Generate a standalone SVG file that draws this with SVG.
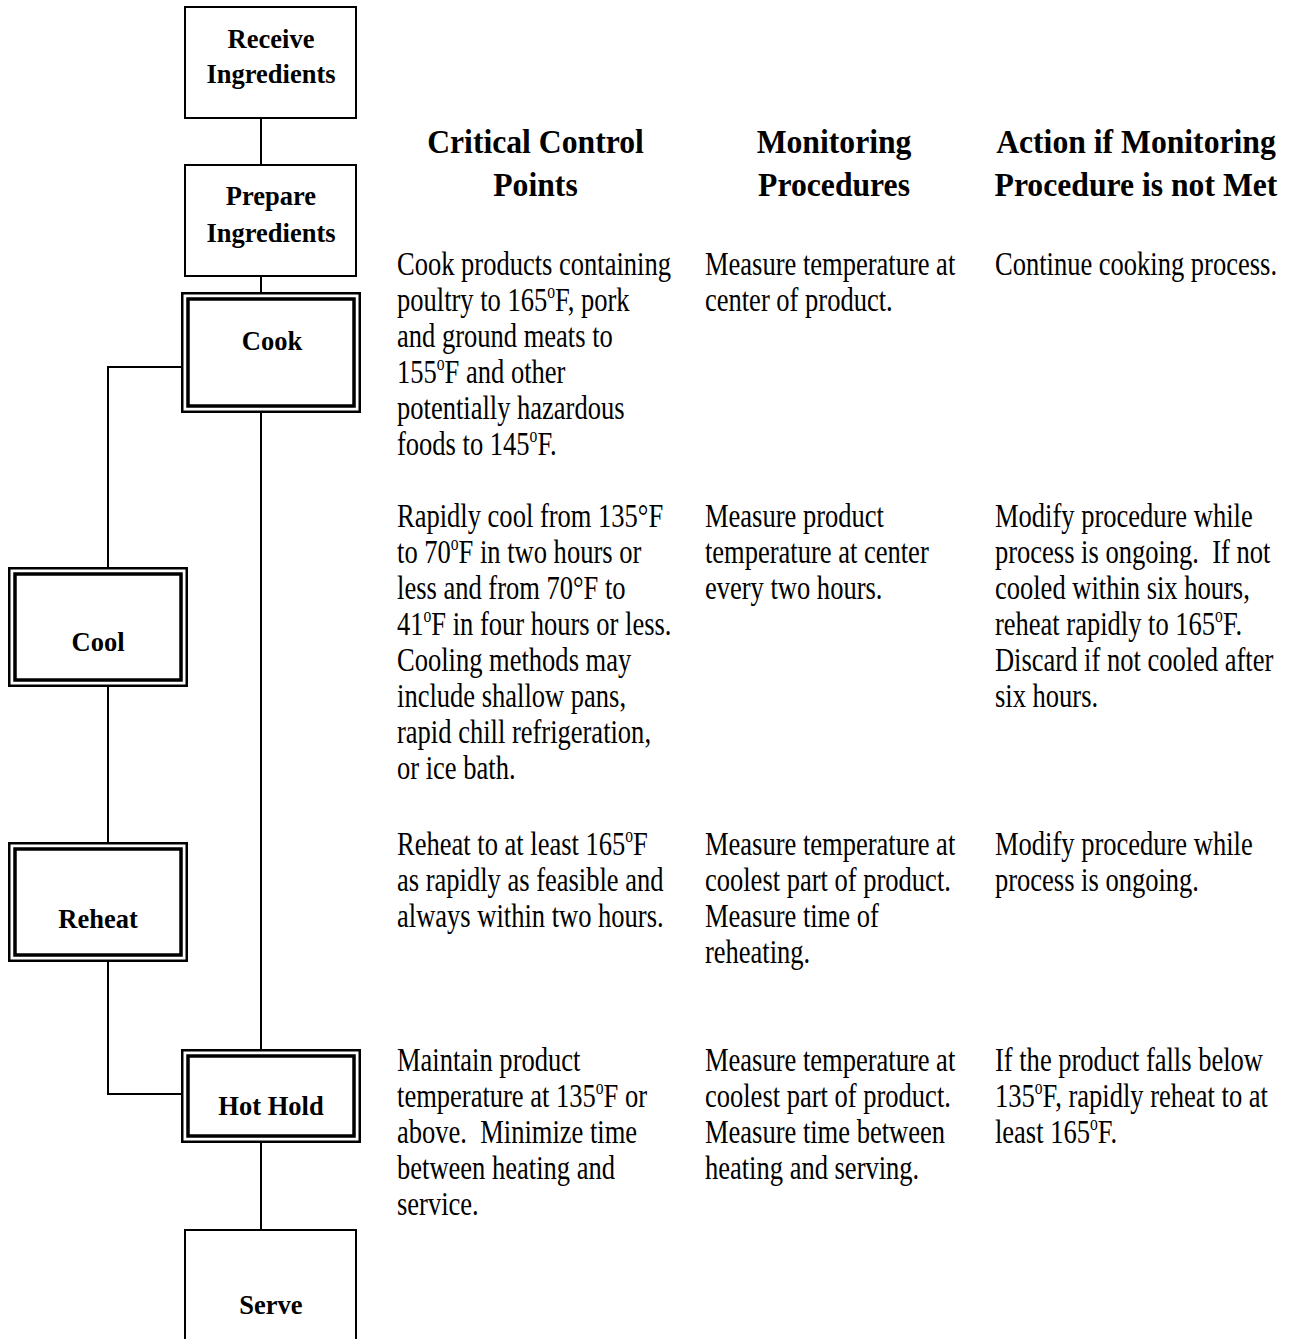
<svg xmlns="http://www.w3.org/2000/svg" width="1294" height="1339" viewBox="0 0 1294 1339">
<style>
  .bg { fill: #ffffff; }
  .box { fill: #ffffff; stroke: #000000; stroke-width: 2; }
  .outer { fill: #ffffff; stroke: #000000; stroke-width: 2.5; }
  .inner { fill: none; stroke: #000000; stroke-width: 3.5; }
  .conn { fill: none; stroke: #000000; stroke-width: 2; }
  .lbl { font-family: "Liberation Serif", "Times New Roman", serif; font-weight: bold; font-size: 26.5px; fill: #000000; text-anchor: middle; }
  .hdr { font-family: "Liberation Serif", "Times New Roman", serif; font-weight: bold; font-size: 33px; fill: #000000; text-anchor: middle; }
  .body { font-family: "Liberation Serif", "Times New Roman", serif; font-size: 34px; fill: #000000; white-space: pre; }
  .sup { font-size: 20px; }
</style>
<rect class="bg" x="0" y="0" width="1294" height="1339"/>

<g id="connectors">
  <line class="conn" x1="261" y1="119" x2="261" y2="165"/>
  <line class="conn" x1="261" y1="277" x2="261" y2="300"/>
  <line class="conn" x1="261" y1="406" x2="261" y2="1049"/>
  <polyline class="conn" points="181,367 108,367 108,567"/>
  <line class="conn" x1="108" y1="687" x2="108" y2="842"/>
  <polyline class="conn" points="108,962 108,1094 181,1094"/>
  <line class="conn" x1="261" y1="1137" x2="261" y2="1229"/>
</g>

<g id="node-receive">
  <rect class="box" x="185" y="7" width="171" height="111"/>
  <text class="lbl" x="271" y="48">Receive</text>
  <text class="lbl" x="271" y="83">Ingredients</text>
</g>
<g id="node-prepare">
  <rect class="box" x="185" y="165" width="171" height="111"/>
  <text class="lbl" x="271" y="205">Prepare</text>
  <text class="lbl" x="271" y="242">Ingredients</text>
</g>
<g id="node-cook">
  <rect class="outer" x="182.25" y="293.25" width="177.5" height="118.5"/>
  <rect class="inner" x="188" y="299" width="166" height="107"/>
  <text class="lbl" x="272" y="350">Cook</text>
</g>
<g id="node-cool">
  <rect class="outer" x="9.25" y="568.25" width="177.5" height="117.5"/>
  <rect class="inner" x="15" y="574" width="166" height="106"/>
  <text class="lbl" x="98" y="651">Cool</text>
</g>
<g id="node-reheat">
  <rect class="outer" x="9.25" y="843.25" width="177.5" height="117.5"/>
  <rect class="inner" x="15" y="849" width="166" height="106"/>
  <text class="lbl" x="98" y="928">Reheat</text>
</g>
<g id="node-hothold">
  <rect class="outer" x="182.25" y="1050.25" width="177.5" height="91.5"/>
  <rect class="inner" x="188" y="1056" width="166" height="80"/>
  <text class="lbl" x="271" y="1115">Hot Hold</text>
</g>
<g id="node-serve">
  <rect class="box" x="185" y="1230" width="171" height="130"/>
  <text class="lbl" x="271" y="1314">Serve</text>
</g>

<g id="headers" transform="scale(0.96,1)">
  <text class="hdr" x="557.8" y="153">Critical Control</text>
  <text class="hdr" x="557.8" y="196">Points</text>
  <text class="hdr" x="868.8" y="153">Monitoring</text>
  <text class="hdr" x="868.8" y="196">Procedures</text>
  <text class="hdr" x="1183.3" y="153">Action if Monitoring</text>
  <text class="hdr" x="1183.3" y="196">Procedure is not Met</text>
</g>

<g id="ccp-text" transform="scale(0.78,1)">
  <text class="body" x="509" y="275">Cook products containing</text>
  <text class="body" x="509" y="311">poultry to 165<tspan class="sup" dy="-13">o</tspan><tspan dy="13">F, pork</tspan></text>
  <text class="body" x="509" y="347">and ground meats to</text>
  <text class="body" x="509" y="383">155<tspan class="sup" dy="-13">o</tspan><tspan dy="13">F and other</tspan></text>
  <text class="body" x="509" y="419">potentially hazardous</text>
  <text class="body" x="509" y="455">foods to 145<tspan class="sup" dy="-13">o</tspan><tspan dy="13">F.</tspan></text>

  <text class="body" x="509" y="527">Rapidly cool from 135°F</text>
  <text class="body" x="509" y="563">to 70<tspan class="sup" dy="-13">o</tspan><tspan dy="13">F in two hours or</tspan></text>
  <text class="body" x="509" y="599">less and from 70°F to</text>
  <text class="body" x="509" y="635">41<tspan class="sup" dy="-13">o</tspan><tspan dy="13">F in four hours or less.</tspan></text>
  <text class="body" x="509" y="671">Cooling methods may</text>
  <text class="body" x="509" y="707">include shallow pans,</text>
  <text class="body" x="509" y="743">rapid chill refrigeration,</text>
  <text class="body" x="509" y="779">or ice bath.</text>

  <text class="body" x="509" y="855">Reheat to at least 165<tspan class="sup" dy="-13">o</tspan><tspan dy="13">F</tspan></text>
  <text class="body" x="509" y="891">as rapidly as feasible and</text>
  <text class="body" x="509" y="927">always within two hours.</text>

  <text class="body" x="509" y="1071">Maintain product</text>
  <text class="body" x="509" y="1107">temperature at 135<tspan class="sup" dy="-13">o</tspan><tspan dy="13">F or</tspan></text>
  <text class="body" x="509" y="1143">above.  Minimize time</text>
  <text class="body" x="509" y="1179">between heating and</text>
  <text class="body" x="509" y="1215">service.</text>
</g>

<g id="monitoring-text" transform="scale(0.78,1)">
  <text class="body" x="903.8" y="275">Measure temperature at</text>
  <text class="body" x="903.8" y="311">center of product.</text>

  <text class="body" x="903.8" y="527">Measure product</text>
  <text class="body" x="903.8" y="563">temperature at center</text>
  <text class="body" x="903.8" y="599">every two hours.</text>

  <text class="body" x="903.8" y="855">Measure temperature at</text>
  <text class="body" x="903.8" y="891">coolest part of product.</text>
  <text class="body" x="903.8" y="927">Measure time of</text>
  <text class="body" x="903.8" y="963">reheating.</text>

  <text class="body" x="903.8" y="1071">Measure temperature at</text>
  <text class="body" x="903.8" y="1107">coolest part of product.</text>
  <text class="body" x="903.8" y="1143">Measure time between</text>
  <text class="body" x="903.8" y="1179">heating and serving.</text>
</g>

<g id="action-text" transform="scale(0.78,1)">
  <text class="body" x="1275.6" y="275">Continue cooking process.</text>

  <text class="body" x="1275.6" y="527">Modify procedure while</text>
  <text class="body" x="1275.6" y="563">process is ongoing.  If not</text>
  <text class="body" x="1275.6" y="599">cooled within six hours,</text>
  <text class="body" x="1275.6" y="635">reheat rapidly to 165<tspan class="sup" dy="-13">o</tspan><tspan dy="13">F.</tspan></text>
  <text class="body" x="1275.6" y="671">Discard if not cooled after</text>
  <text class="body" x="1275.6" y="707">six hours.</text>

  <text class="body" x="1275.6" y="855">Modify procedure while</text>
  <text class="body" x="1275.6" y="891">process is ongoing.</text>

  <text class="body" x="1275.6" y="1071">If the product falls below</text>
  <text class="body" x="1275.6" y="1107">135<tspan class="sup" dy="-13">o</tspan><tspan dy="13">F, rapidly reheat to at</tspan></text>
  <text class="body" x="1275.6" y="1143">least 165<tspan class="sup" dy="-13">o</tspan><tspan dy="13">F.</tspan></text>
</g>
</svg>
